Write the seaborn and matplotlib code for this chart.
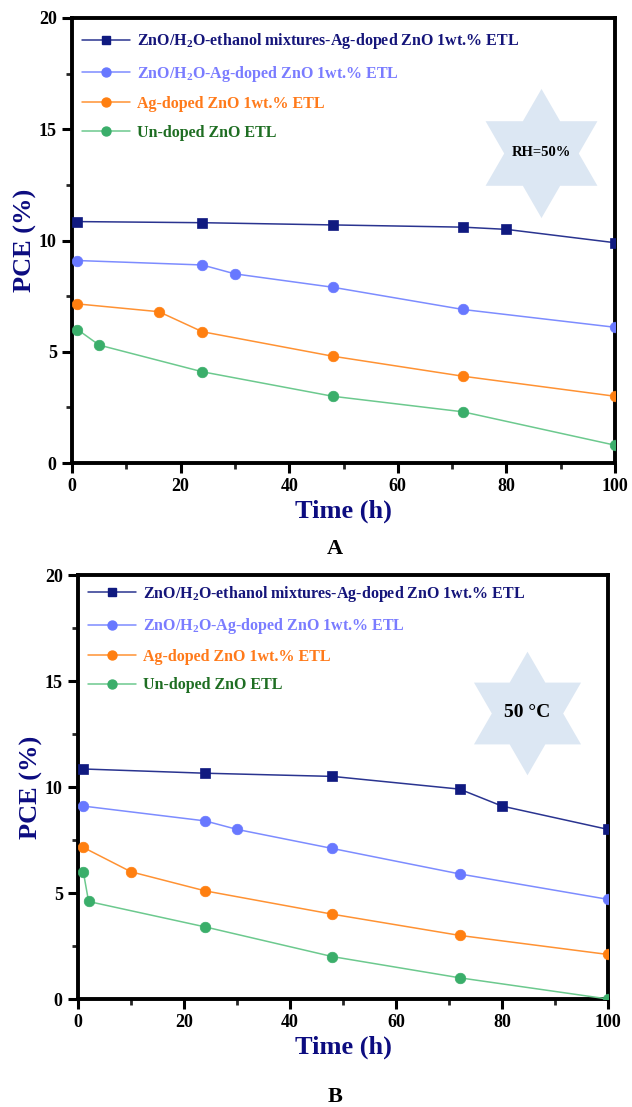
import numpy as np
import pandas as pd
import matplotlib
matplotlib.use("Agg")
import matplotlib.pyplot as plt
from matplotlib.path import Path
from matplotlib.lines import Line2D
import seaborn as sns

# ---- data: PCE (%) versus ageing time (h) ----
series_names = [
    r"ZnO/H$_\mathbf{2}$O-ethanol mixtures-Ag-doped ZnO 1wt.% ETL",
    r"ZnO/H$_\mathbf{2}$O-Ag-doped ZnO 1wt.% ETL",
    "Ag-doped ZnO 1wt.% ETL",
    "Un-doped ZnO ETL",
]

# Panel A: RH = 50 %
a_mix_t = [1, 24, 48, 72, 80, 100]
a_mix_pce = [10.85, 10.8, 10.7, 10.6, 10.5, 9.9]
a_h2o_t = [1, 24, 30, 48, 72, 100]
a_h2o_pce = [9.1, 8.9, 8.5, 7.9, 6.9, 6.1]
a_ag_t = [1, 16, 24, 48, 72, 100]
a_ag_pce = [7.15, 6.8, 5.9, 4.8, 3.9, 3.0]
a_un_t = [1, 5, 24, 48, 72, 100]
a_un_pce = [6.0, 5.3, 4.1, 3.0, 2.3, 0.8]

# Panel B: 50 °C
b_mix_t = [1, 24, 48, 72, 80, 100]
b_mix_pce = [10.85, 10.65, 10.5, 9.9, 9.1, 8.0]
b_h2o_t = [1, 24, 30, 48, 72, 100]
b_h2o_pce = [9.1, 8.4, 8.0, 7.1, 5.9, 4.7]
b_ag_t = [1, 10, 24, 48, 72, 100]
b_ag_pce = [7.15, 6.0, 5.1, 4.0, 3.0, 2.1]
b_un_t = [1, 2, 24, 48, 72, 100]
b_un_pce = [6.0, 4.6, 3.4, 2.0, 1.0, 0.0]

x_ticks = [0, 20, 40, 60, 80, 100]
y_ticks = [0, 5, 10, 15, 20]

line_colors = ["#101a80", "#6878ff", "#ff7f10", "#3aae6a"]
line_light = ["#2a3490", "#7d8cff", "#ff9233", "#6cc98e"]
text_colors = ["#15157a", "#7a7cff", "#ff7a1a", "#1f6e23"]
markers = ["s", "o", "o", "o"]
marker_sizes = [6.6, 7.6, 7.6, 7.6]

sns.set_theme(style="ticks")
plt.rcParams["font.family"] = ["Liberation Serif", "DejaVu Serif"]
plt.rcParams["font.weight"] = "bold"
plt.rcParams["mathtext.fontset"] = "custom"
plt.rcParams["mathtext.rm"] = "Liberation Serif:bold"
plt.rcParams["mathtext.bf"] = "Liberation Serif:bold"
plt.rcParams["mathtext.it"] = "Liberation Serif:bold"

# six-pointed star outline
ang = np.deg2rad(90 + 30 * np.arange(12))
rad = np.where(np.arange(12) % 2 == 0, 1.0, 1.0 / np.sqrt(3))
star_verts = np.column_stack([rad * np.cos(ang), rad * np.sin(ang)])
star_verts = np.vstack([star_verts, star_verts[:1]])
star_path = Path(star_verts, closed=True)

fig = plt.figure(figsize=(6.32, 11.07), dpi=100)
ax_a = fig.add_axes([72 / 632, 1 - 463 / 1107, (615 - 72) / 632, (463 - 18) / 1107])
ax_b = fig.add_axes([78 / 632, 1 - 999 / 1107, (608 - 78) / 632, (999 - 575) / 1107])

panels = [
    (ax_a, [(a_mix_t, a_mix_pce), (a_h2o_t, a_h2o_pce), (a_ag_t, a_ag_pce), (a_un_t, a_un_pce)],
     (86.4, 13.95), 93, "RH=50%", dict(fontsize=10.5, fontweight="bold"), "A", 549, 0.992),
    (ax_b, [(b_mix_t, b_mix_pce), (b_h2o_t, b_h2o_pce), (b_ag_t, b_ag_pce), (b_un_t, b_un_pce)],
     (84.7, 13.5), 89, "50 °C", dict(fontsize=14, fontweight="bold"), "B", 1097, 1.0015),
]

for ax, data, star_xy, star_size, star_text, star_kw, letter, letter_y, leg_y in panels:
    for i, (t, v) in enumerate(data):
        df = pd.DataFrame({"Time": t, "PCE": v})
        sns.lineplot(data=df, x="Time", y="PCE", ax=ax, color=line_light[i],
                     linewidth=1.1, marker=markers[i], markersize=marker_sizes[i],
                     markerfacecolor=line_colors[i], markeredgecolor=line_colors[i],
                     markeredgewidth=0.5, errorbar=None, zorder=3)

    # decorative star with the condition label
    ax.plot([star_xy[0]], [star_xy[1]], marker=star_path, markersize=star_size,
            color="#dce7f3", markeredgewidth=0, linestyle="none", zorder=1)
    ax.text(star_xy[0], star_xy[1], star_text, ha="center", va="center",
            color="black", zorder=2, **star_kw)

    ax.set_xlim(0, 100)
    ax.set_ylim(0, 20)
    ax.set_xticks(x_ticks)
    ax.set_yticks(y_ticks)
    ax.set_xticks(np.arange(10, 100, 20), minor=True)
    ax.set_yticks(np.arange(2.5, 20, 5), minor=True)
    ax.tick_params(which="major", direction="out", length=7, width=2.2,
                   labelsize=13, pad=4, colors="black")
    ax.tick_params(which="minor", direction="out", length=4, width=2.0)
    for lab in ax.get_xticklabels() + ax.get_yticklabels():
        lab.set_fontweight("bold")
    for sp in ax.spines.values():
        sp.set_visible(True)
        sp.set_linewidth(2.8)
        sp.set_color("black")

    ax.set_xlabel("Time (h)", fontsize=19, fontweight="bold", color="#0c0c80", labelpad=3)
    ax.set_ylabel("PCE (%)", fontsize=19, fontweight="bold", color="#0c0c80", labelpad=1)

    handles = [Line2D([], [], color=line_light[i], linewidth=1.1, marker=markers[i],
                      markersize=marker_sizes[i] * 0.85, markerfacecolor=line_colors[i],
                      markeredgecolor=line_colors[i]) for i in range(4)]
    leg = ax.legend(handles, series_names, loc="upper left", bbox_to_anchor=(0.0, leg_y),
                    frameon=False, fontsize=11.5, handlelength=3.0, handletextpad=0.45,
                    labelspacing=0.78, borderaxespad=0.3, borderpad=0.3)
    for txt, c in zip(leg.get_texts(), text_colors):
        txt.set_color(c)
        txt.set_fontweight("bold")

    bbox = ax.get_position()
    fig.text((bbox.x0 + bbox.x1) / 2 - 0.013, 1 - letter_y / 1107, letter,
             ha="center", va="center", fontsize=16, fontweight="bold", color="black")

fig.savefig("out.png", dpi=100)
